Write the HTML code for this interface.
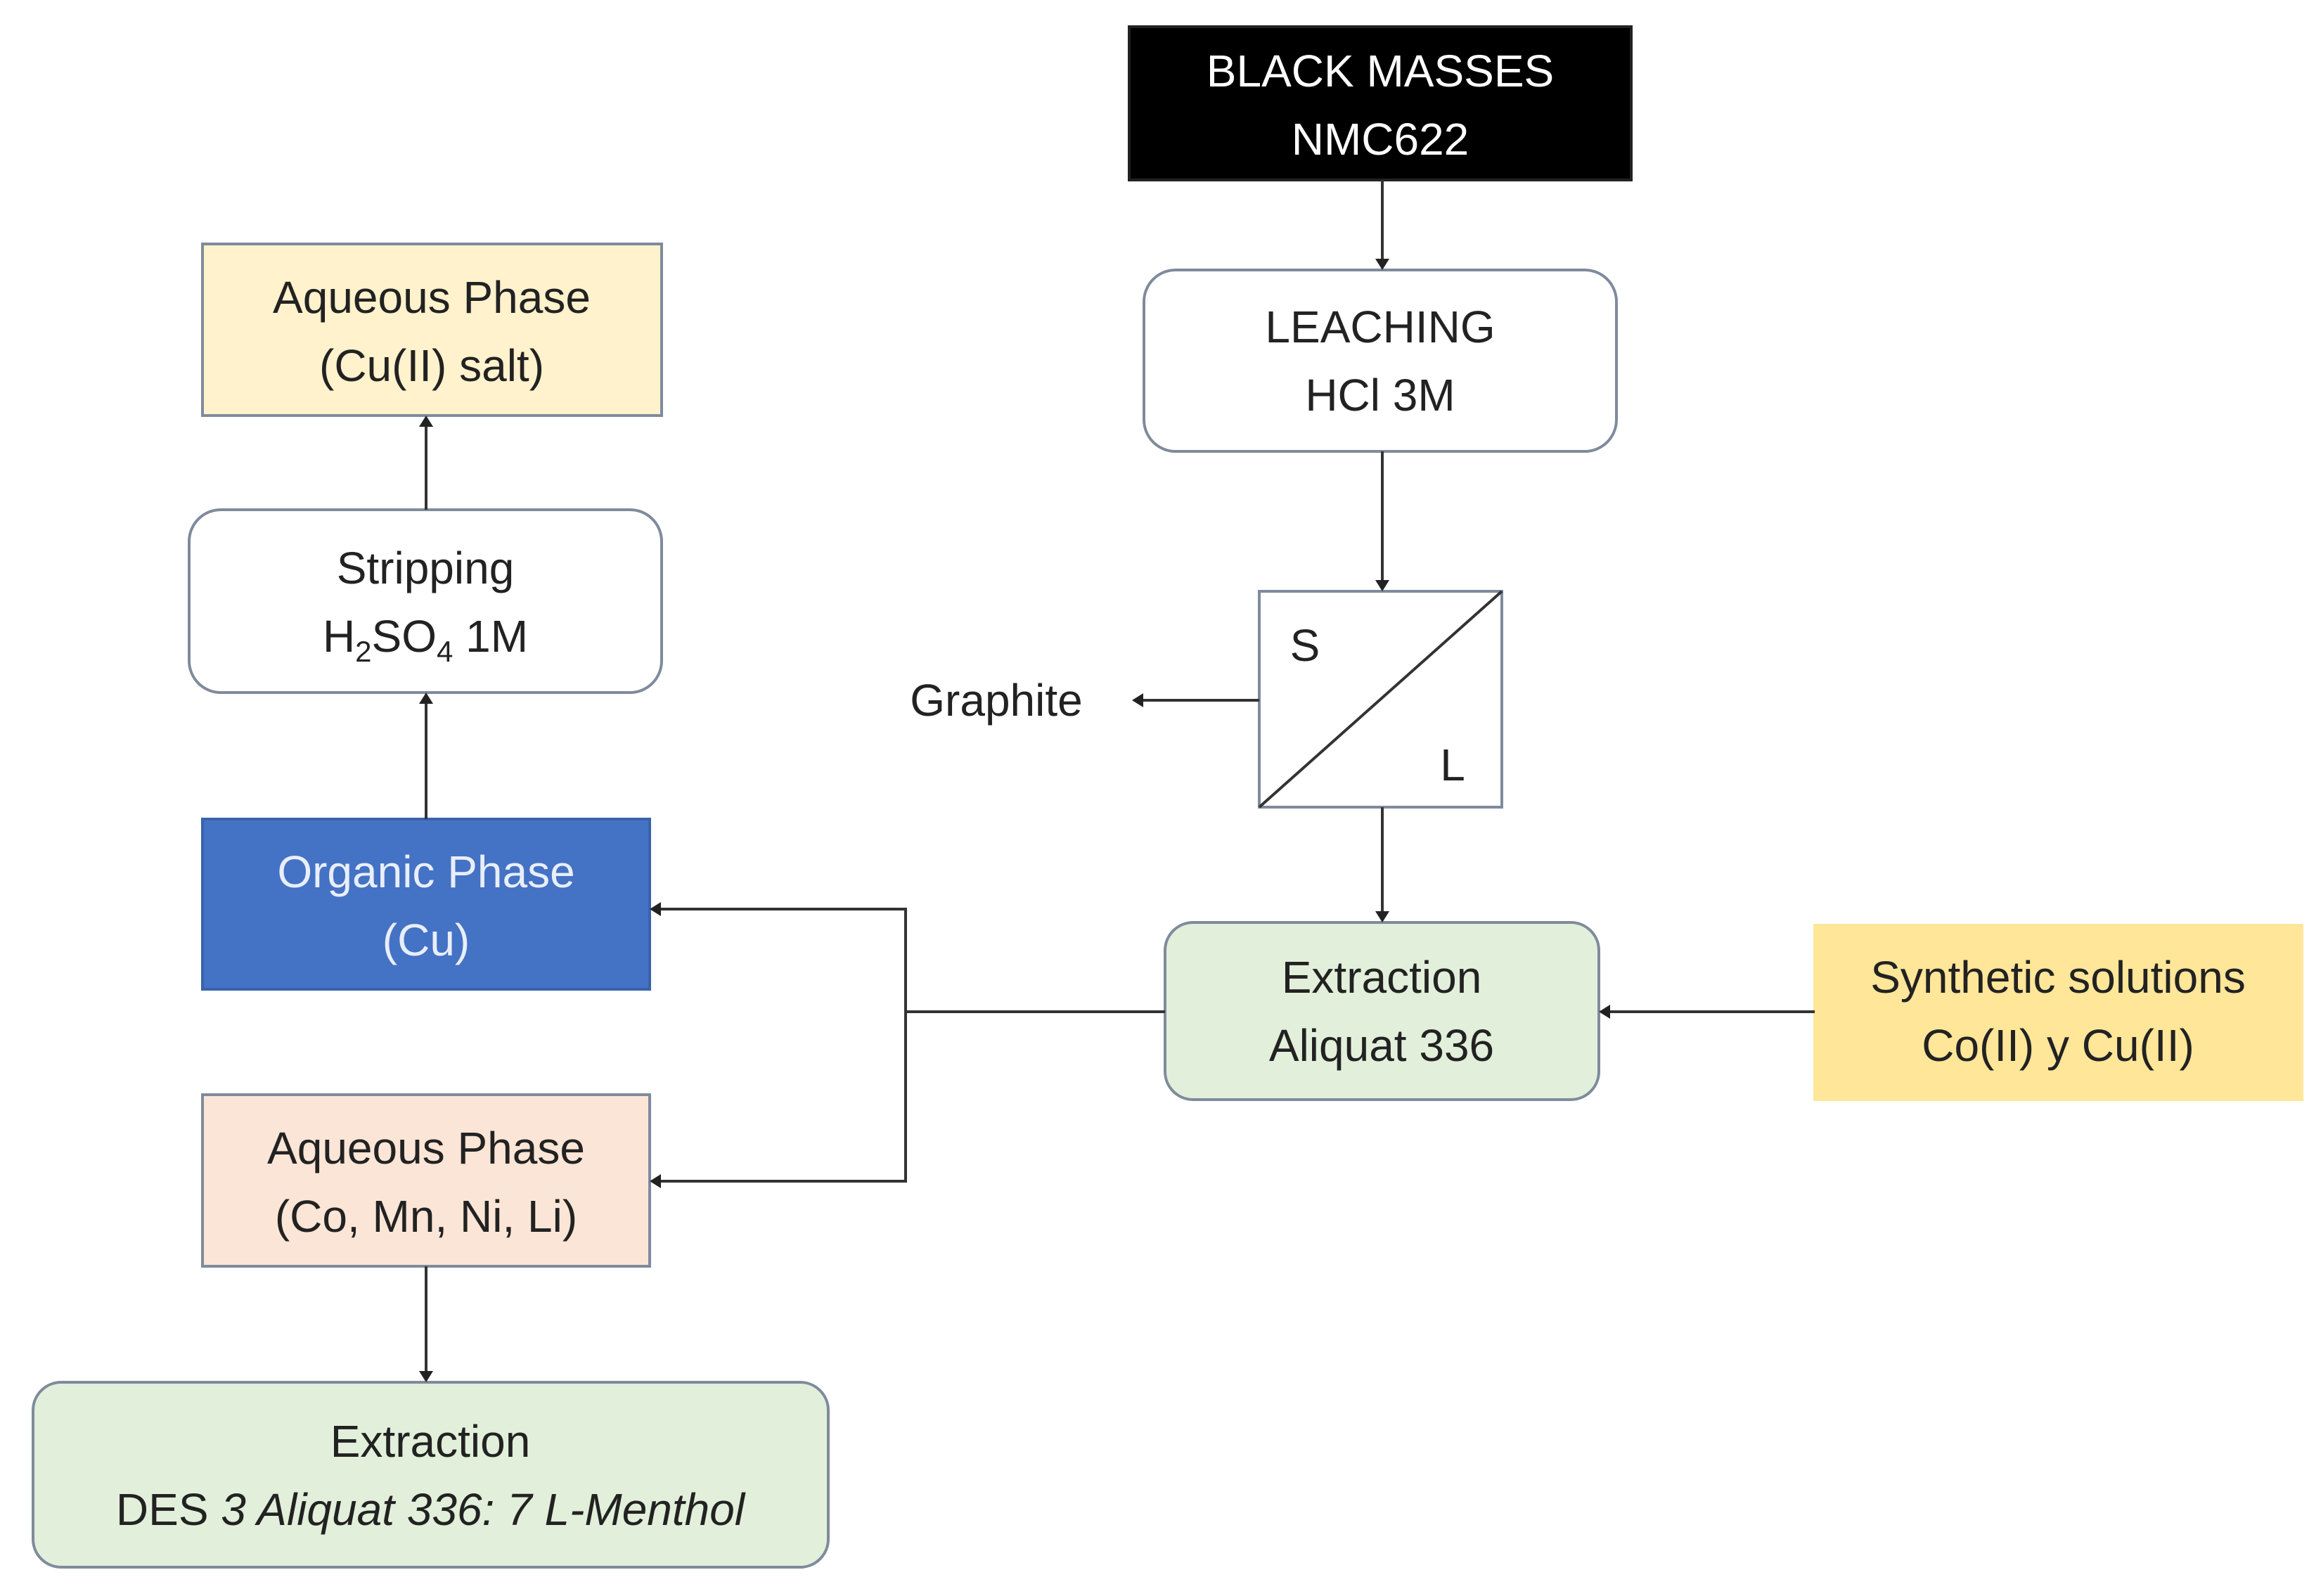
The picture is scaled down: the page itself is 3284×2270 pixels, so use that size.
<!DOCTYPE html>
<html><head><meta charset="utf-8"><style>
html,body{margin:0;padding:0;background:#fff;}
svg{display:block}
text{font-family:"Liberation Sans",sans-serif;font-size:64px;fill:#222;text-anchor:middle}
</style></head><body>
<svg width="3284" height="2270" viewBox="0 0 3284 2270" xmlns="http://www.w3.org/2000/svg">
<defs>
<marker id="a" markerWidth="8" markerHeight="8" refX="7" refY="4" orient="auto" markerUnits="userSpaceOnUse" viewBox="0 0 8 8">
</marker>
</defs>
<g stroke="#7f8b9c" stroke-width="4">
<rect x="1606" y="38" width="714" height="218" fill="#000" stroke="#222"/>
<rect x="1627" y="384" width="672" height="258" rx="45" fill="#fff"/>
<rect x="1791" y="841" width="345" height="307" fill="#fff"/>
<line x1="1791" y1="1148" x2="2136" y2="841" stroke="#333"/>
<rect x="1657" y="1312" width="617" height="252" rx="40" fill="#e2efda"/>
<rect x="2581" y="1316" width="693" height="248" fill="#ffe699" stroke="#ffe699"/>
<rect x="288" y="1165" width="636" height="242" fill="#4472c4" stroke="#3a63ad"/>
<rect x="288" y="1557" width="636" height="244" fill="#fbe5d6"/>
<rect x="47" y="1966" width="1131" height="263" rx="40" fill="#e2efda"/>
<rect x="269" y="725" width="672" height="260" rx="45" fill="#fff"/>
<rect x="288" y="347" width="653" height="244" fill="#fff2cc"/>
</g>
<g stroke="#333" stroke-width="4" fill="none">
<line x1="1966" y1="256" x2="1966" y2="370"/>
<line x1="1966" y1="642" x2="1966" y2="827"/>
<line x1="1966" y1="1148" x2="1966" y2="1298"/>
<line x1="1791" y1="996" x2="1624" y2="996"/>
<line x1="2581" y1="1439" x2="2288" y2="1439"/>
<polyline points="1657,1439 1288,1439"/>
<polyline points="938,1293 1288,1293 1288,1680 938,1680"/>
<line x1="606" y1="1801" x2="606" y2="1952"/>
<line x1="606" y1="1165" x2="606" y2="999"/>
<line x1="606" y1="725" x2="606" y2="605"/>
</g>
<g fill="#222">
<polygon points="1956,368 1976,368 1966,384"/>
<polygon points="1956,825 1976,825 1966,841"/>
<polygon points="1956,1296 1976,1296 1966,1312"/>
<polygon points="1626,986 1626,1006 1610,996"/>
<polygon points="2290,1429 2290,1449 2274,1439"/>
<polygon points="940,1283 940,1303 924,1293"/>
<polygon points="940,1670 940,1690 924,1680"/>
<polygon points="596,1950 616,1950 606,1966"/>
<polygon points="596,1001 616,1001 606,985"/>
<polygon points="596,607 616,607 606,591"/>
</g>
<text x="1963" y="123" style="fill:#fff">BLACK MASSES</text>
<text x="1963" y="220" style="fill:#fff">NMC622</text>
<text x="1963" y="487">LEACHING</text>
<text x="1963" y="584">HCl 3M</text>
<text x="1856" y="940">S</text>
<text x="2066" y="1110">L</text>
<text x="1417" y="1018">Graphite</text>
<text x="1965" y="1412">Extraction</text>
<text x="1965" y="1509">Aliquat 336</text>
<text x="2927" y="1412">Synthetic solutions</text>
<text x="2927" y="1509">Co(II) y Cu(II)</text>
<text x="606" y="1262" style="fill:#e8eefa">Organic Phase</text>
<text x="606" y="1359" style="fill:#e8eefa">(Cu)</text>
<text x="606" y="1655">Aqueous Phase</text>
<text x="606" y="1752">(Co, Mn, Ni, Li)</text>
<text x="612" y="2072">Extraction</text>
<text x="612" y="2169">DES <tspan font-style="italic">3 Aliquat 336: 7 L-Menthol</tspan></text>
<text x="605" y="830">Stripping</text>
<text x="605" y="927">H<tspan font-size="42" dy="14">2</tspan><tspan dy="-14">SO</tspan><tspan font-size="42" dy="14">4</tspan><tspan dy="-14"> 1M</tspan></text>
<text x="614" y="445">Aqueous Phase</text>
<text x="614" y="542">(Cu(II) salt)</text>
</svg>
</body></html>
